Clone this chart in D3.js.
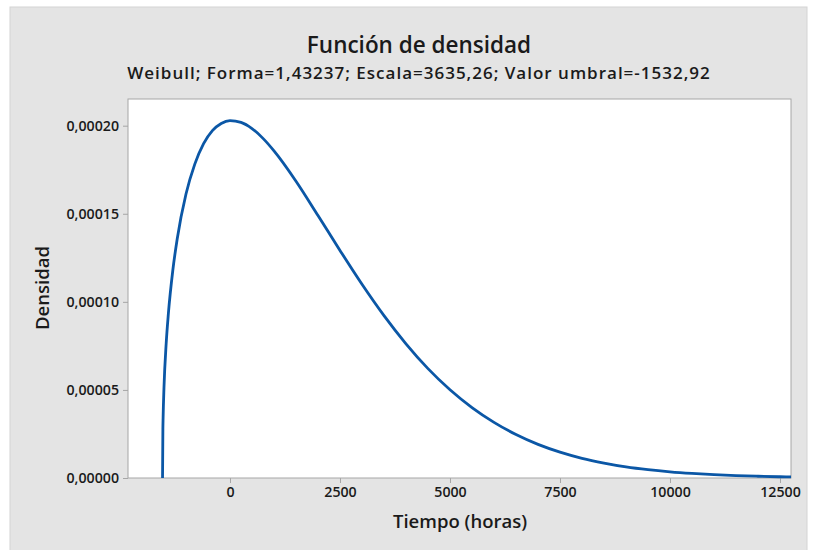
<!DOCTYPE html>
<html>
<head>
<meta charset="utf-8">
<script src="https://cdn.jsdelivr.net/npm/d3@7"></script>
<style>
  body { margin: 0; background: #fff; }
  text { font-family: "Open Sans", "Noto Sans", sans-serif; fill: #1a1a1a; }
</style>
</head>
<body>
<div class="container"></div>
<script>
// Weibull density, points
var tiempo = [-1532.92, -1525, -1520, -1500, -1450, -1400, -1300, -1200, -1000, -800, -600, -400, -200,
  0, 250, 500, 750, 1000, 1500, 2000, 2500, 3000, 3500, 4000, 4500, 5000, 5500, 6000, 6500,
  7000, 7500, 8000, 8500, 9000, 9500, 10000, 10500, 11000, 11500, 12000, 12500, 12750];
var densidad = [0, 2.78e-5, 3.44e-5, 5.15e-5, 7.65e-5, 9.34e-5, 1.178e-4, 1.357e-4, 1.612e-4, 1.782e-4, 1.898e-4, 1.972e-4, 2.013e-4,
  2.029e-4, 2.019e-4, 1.984e-4, 1.928e-4, 1.857e-4, 1.685e-4, 1.490e-4, 1.292e-4, 1.100e-4, 9.22e-5, 7.62e-5, 6.21e-5, 5.01e-5, 4.00e-5, 3.16e-5, 2.47e-5,
  1.91e-5, 1.47e-5, 1.12e-5, 8.5e-6, 6.3e-6, 4.7e-6, 3.5e-6, 2.6e-6, 1.9e-6, 1.4e-6, 1.0e-6, 7e-7, 6e-7];
var xTicks = [0, 2500, 5000, 7500, 10000, 12500];
var yTicks = [0, 0.00005, 0.0001, 0.00015, 0.0002];

var width = 817, height = 550;
var pLeft = 128, pRight = 791, pTop = 99, pBottom = 478;

var svg = d3.select('.container').append('svg')
  .attr('width', width)
  .attr('height', height);

// outer gray panel
svg.append('rect')
  .attr('x', 10).attr('y', 7)
  .attr('width', 797).attr('height', 545)
  .attr('fill', '#e4e4e4')
  .attr('stroke', '#d4d4d4');

var x = d3.scaleLinear().domain([-2318, 12750]).range([pLeft, pRight]);
var y = d3.scaleLinear().domain([0, 0.0002]).range([pBottom, 125.7]);

svg.append('rect')
  .attr('x', pLeft).attr('y', pTop)
  .attr('width', pRight - pLeft).attr('height', pBottom - pTop)
  .attr('fill', '#fff')
  .attr('stroke', '#a6a6a6');

var fmtY = function(d) { return d3.format('.5f')(d).replace('.', ','); };

var xAxis = svg.append('g')
  .attr('transform', 'translate(0,' + pBottom + ')')
  .call(d3.axisBottom(x).tickValues(xTicks).tickSize(5).tickPadding(4).tickFormat(d3.format('d')));
var yAxis = svg.append('g')
  .attr('transform', 'translate(' + pLeft + ',0)')
  .call(d3.axisLeft(y).tickValues(yTicks).tickSize(5).tickPadding(4).tickFormat(fmtY));

[xAxis, yAxis].forEach(function(g) {
  g.select('.domain').remove();
  g.selectAll('line').attr('stroke', '#a6a6a6');
  g.selectAll('text').attr('font-size', 14.2).attr('font-weight', 600)
    .attr('font-family', '"Open Sans", sans-serif').attr('fill', '#1a1a1a');
});

svg.append('path')
  .datum(tiempo.map(function(t, i) { return [t, densidad[i]]; }))
  .attr('fill', 'none')
  .attr('stroke', '#0b57a6')
  .attr('stroke-width', 2.8)
  .attr('d', d3.line()
    .x(function(d) { return x(d[0]); })
    .y(function(d) { return y(d[1]); })
    .curve(d3.curveMonotoneX));

// titles
svg.append('text')
  .attr('x', 419).attr('y', 53)
  .attr('text-anchor', 'middle')
  .attr('font-size', 22.5).attr('font-weight', 600)
  .text('Función de densidad');
svg.append('text')
  .attr('x', 419).attr('y', 79)
  .attr('text-anchor', 'middle')
  .attr('font-size', 17).attr('font-weight', 600)
  .attr('letter-spacing', 1)
  .text('Weibull; Forma=1,43237; Escala=3635,26; Valor umbral=-1532,92');

svg.append('text')
  .attr('x', 460).attr('y', 528)
  .attr('text-anchor', 'middle')
  .attr('font-size', 18.5).attr('font-weight', 600)
  .text('Tiempo (horas)');
svg.append('text')
  .attr('transform', 'translate(49,' + 288 + ') rotate(-90)')
  .attr('text-anchor', 'middle')
  .attr('font-size', 18.5).attr('font-weight', 600)
  .text('Densidad');
</script>
</body>
</html>
